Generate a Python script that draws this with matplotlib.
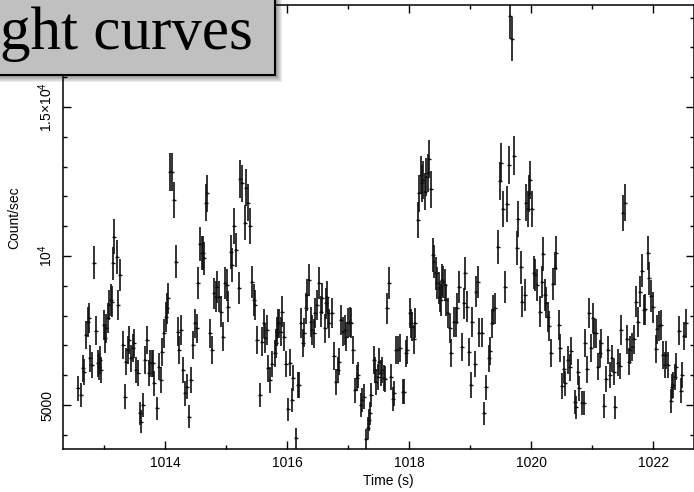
import numpy as np
import matplotlib
matplotlib.use("Agg")
import matplotlib.pyplot as plt
from matplotlib.patches import Rectangle
from matplotlib.ticker import MultipleLocator

plt.rcParams["font.family"] = ["Liberation Sans", "DejaVu Sans"]
plt.rcParams["mathtext.fontset"] = "custom"
plt.rcParams["mathtext.rm"] = "Liberation Sans"
plt.rcParams["mathtext.it"] = "Liberation Sans:italic"

# light curve, 1/32 s bins
BIN = 1.0 / 32.0

time_a = [
    1012.57, 1012.61, 1012.64, 1012.67, 1012.70, 1012.73, 1012.74, 1012.77, 1012.79, 1012.83,
    1012.86, 1012.89, 1012.91, 1012.93, 1012.95, 1012.99, 1013.01, 1013.03, 1013.05, 1013.08,
    1013.10, 1013.12, 1013.14, 1013.16, 1013.20, 1013.23, 1013.26, 1013.30, 1013.33, 1013.35,
    1013.38, 1013.40, 1013.44, 1013.46, 1013.48, 1013.51, 1013.55, 1013.58, 1013.60, 1013.63,
    1013.67, 1013.70, 1013.73, 1013.75, 1013.78, 1013.80, 1013.82, 1013.86, 1013.90, 1013.92,
    1013.95, 1013.97, 1014.01, 1014.03, 1014.05, 1014.08, 1014.11, 1014.14, 1014.17, 1014.20,
    1014.23, 1014.26, 1014.29, 1014.32, 1014.36, 1014.39, 1014.42, 1014.45, 1014.49, 1014.51,
    1014.54, 1014.57, 1014.60, 1014.62, 1014.64, 1014.67, 1014.69, 1014.73, 1014.76, 1014.79,
    1014.83, 1014.85, 1014.88, 1014.91, 1014.95, 1014.98, 1015.01, 1015.03, 1015.07, 1015.10,
    1015.13, 1015.16, 1015.20, 1015.23, 1015.26, 1015.30, 1015.32, 1015.35, 1015.38, 1015.42,
    1015.45, 1015.47, 1015.51, 1015.55, 1015.58, 1015.61, 1015.63, 1015.66, 1015.69, 1015.72,
    1015.75,
]
rate_a = [
    5559, 5335, 6230, 6118, 7349, 7796, 7908, 6566, 6342, 9776,
    7494, 6398, 6286, 6510, 6174, 7684, 7237, 7572, 7908, 8355,
    8523, 8467, 9754, 10649, 9978, 8355, 9362, 7013, 5279, 6454,
    6845, 7181, 6566, 6901, 7069, 6174, 6062, 4720, 4440, 4999,
    6510, 7181, 6062, 6398, 6398, 6398, 5726, 4887, 6286, 5838,
    6790, 7405, 7964, 8244, 8579, 12808, 12808, 11879, 9810, 7461,
    6845, 7517, 6174, 5391, 5615, 4608, 5838, 7013, 7740, 7572,
    9083, 10403, 10089, 10089, 9922, 11790, 12103, 7405, 6845, 8747,
    8635, 8971, 8635, 8132, 7293, 9083, 9027, 8300, 10145, 9698,
    11007, 10201, 8915, 12573, 12439, 11119, 12293, 11790, 11007, 9139,
    8523, 8355, 7181, 5335, 7125, 7740, 7237, 7517, 6230, 5838,
    6376,
]

time_b = [
    1015.79, 1015.81, 1015.83, 1015.85, 1015.87, 1015.90, 1015.92, 1015.95, 1015.98, 1016.01,
    1016.04, 1016.07, 1016.10, 1016.14, 1016.17, 1016.19, 1016.23, 1016.26, 1016.28, 1016.31,
    1016.33, 1016.35, 1016.39, 1016.41, 1016.43, 1016.46, 1016.49, 1016.52, 1016.55, 1016.57,
    1016.61, 1016.63, 1016.65, 1016.67, 1016.69, 1016.73, 1016.76, 1016.79, 1016.83, 1016.85,
    1016.88, 1016.91, 1016.95, 1016.97, 1017.00, 1017.02, 1017.04, 1017.08, 1017.11, 1017.14,
    1017.16, 1017.20, 1017.23, 1017.25, 1017.29, 1017.32, 1017.34, 1017.36, 1017.38, 1017.42,
    1017.44, 1017.46, 1017.49, 1017.51, 1017.54, 1017.56, 1017.58, 1017.60, 1017.63, 1017.67,
    1017.70, 1017.73, 1017.75, 1017.79, 1017.82, 1017.84, 1017.89, 1017.91, 1017.94, 1017.97,
    1018.01, 1018.03, 1018.05, 1018.07, 1018.10, 1018.14, 1018.16, 1018.19, 1018.21, 1018.23,
    1018.26, 1018.28, 1018.30, 1018.32, 1018.35, 1018.39, 1018.41, 1018.43, 1018.45, 1018.48,
    1018.50, 1018.52, 1018.54, 1018.56, 1018.58, 1018.61, 1018.64, 1018.66, 1018.69, 1018.73,
    1018.76, 1018.79, 1018.82, 1018.86, 1018.89, 1018.91, 1018.95, 1018.98, 1019.01, 1019.03,
    1019.07, 1019.10, 1019.12, 1019.15, 1019.19, 1019.22,
]
rate_b = [
    6733, 7069, 7461, 7740, 7740, 7461, 8132, 7293, 6376, 4854,
    6420, 5167, 5894, 3881, 5671, 5671, 7763, 7091, 7427, 8244,
    8691, 9194, 7796, 7517, 7405, 8076, 8355, 9083, 8132, 8579,
    7572, 8411, 8635, 8076, 7740, 8098, 6644, 5782, 6174, 6454,
    7852, 7461, 7517, 7293, 7763, 7796, 7763, 6845, 5503, 5894,
    6006, 4999, 5167, 5279, 3858, 4216, 4496, 4720, 5335, 6510,
    6174, 5782, 5950, 6454, 6062, 6174, 5894, 5861, 8244, 9083,
    5950, 5190, 5391, 6845, 6845, 6901, 5447, 5447, 6733, 6845,
    8076, 7740, 7628, 7203, 7763, 11208, 12103, 12718, 12439, 12551,
    12159, 12662, 12774, 13255, 12237, 10034, 9810, 9418, 9083, 8915,
    8635, 8523, 9194, 9139, 9027, 8523, 8076, 7572, 6756, 7796,
    7796, 8244, 8971, 6957, 8411, 9418, 8300, 6790, 5671, 7796,
    6376, 8803, 9139, 7427, 7427, 4720,
]

time_c = [
    1019.26, 1019.30, 1019.32, 1019.35, 1019.37, 1019.40, 1019.45, 1019.48, 1019.50, 1019.54,
    1019.57, 1019.60, 1019.63, 1019.66, 1019.69, 1019.72, 1019.77, 1019.79, 1019.83, 1019.85,
    1019.89, 1019.92, 1019.94, 1019.96, 1019.98, 1020.02, 1020.05, 1020.07, 1020.09, 1020.14,
    1020.17, 1020.19, 1020.22, 1020.25, 1020.27, 1020.29, 1020.32, 1020.36, 1020.39, 1020.41,
    1020.45, 1020.48, 1020.51, 1020.54, 1020.56, 1020.60, 1020.63, 1020.66, 1020.71, 1020.73,
    1020.76, 1020.79, 1020.83, 1020.86, 1020.89, 1020.92, 1020.95, 1020.98, 1021.01, 1021.03,
    1021.07, 1021.10, 1021.12, 1021.15, 1021.20, 1021.23, 1021.26, 1021.30, 1021.33, 1021.35,
    1021.38, 1021.42, 1021.45, 1021.48, 1021.51, 1021.54, 1021.57, 1021.60, 1021.62, 1021.66,
    1021.69, 1021.72, 1021.75, 1021.79, 1021.82, 1021.85, 1021.87, 1021.92, 1021.94, 1021.97,
    1022.00, 1022.04, 1022.07, 1022.09, 1022.13, 1022.16, 1022.19, 1022.21, 1022.25, 1022.29,
    1022.31, 1022.33, 1022.36, 1022.38, 1022.42, 1022.45, 1022.48, 1022.51, 1022.54,
]
rate_c = [
    5592, 6566, 6823, 7740, 8188, 8244, 10313, 12528, 13132, 11566,
    8971, 11745, 13054, 18050, 17280, 13367, 10257, 11231, 9620, 8467,
    8691, 11790, 11566, 12103, 12551, 11566, 9441, 9362, 9027, 8132,
    9139, 10056, 8691, 8434, 7964, 7651, 6756, 9060, 9586, 10112,
    7684, 6901, 5637, 6196, 5726, 6510, 6264, 6823, 5111, 4921,
    6118, 5559, 5055, 5055, 7091, 6196, 8076, 6901, 7908, 7405,
    7405, 6286, 6733, 7069, 4977, 5861, 6845, 6006, 6566, 6118,
    4921, 6420, 6308, 7517, 11432, 11790, 7203, 6454, 6845, 6957,
    7203, 8467, 7796, 8803, 9508, 8188, 8210, 10089, 9250, 8658,
    8277, 6868, 7539, 7651, 7684, 6677, 6342, 6677, 6342, 5145,
    5615, 5671, 5950, 6286, 7494, 5480, 6006, 7315, 7740,
]

y_ticks = [5000, 10000, 15000]
y_tick_labels = ["5000", r"$\mathregular{10^4}$", r"$\mathregular{1.5{\times}10^4}$"]
x_ticks = [1014, 1016, 1018, 1020, 1022]

time = np.array(time_a + time_b + time_c)
rate = np.array(rate_a + rate_b + rate_c, dtype=float)
# poisson error on the rate
rate_err = np.sqrt(rate / BIN)

fig = plt.figure(figsize=(6.94, 4.92), dpi=100)
ax = fig.add_axes([63 / 694, 43 / 492, 631 / 694, 444 / 492])

ax.errorbar(time, rate, yerr=rate_err, xerr=BIN / 2, fmt="_", color="#111111",
            markersize=3.5, markeredgewidth=1.0,
            ecolor="#111111", elinewidth=1.2, capsize=0)

ax.set_xlim(1012.32, 1022.67)
ax.set_ylim(3524, 18423)

ax.set_xticks(x_ticks)
ax.xaxis.set_minor_locator(MultipleLocator(1))
ax.set_yticks(y_ticks)
ax.set_yticklabels(y_tick_labels)
ax.yaxis.set_minor_locator(MultipleLocator(1000))

ax.tick_params(which="both", direction="in", top=True, right=True, width=1.0,
               labelsize=10)
ax.tick_params(which="major", length=5.5)
ax.tick_params(which="minor", length=2.8)
ax.tick_params(axis="x", pad=5)
ax.tick_params(axis="y", pad=6, labelrotation=90)
for lbl in ax.get_yticklabels():
    lbl.set_va("center")

for sp in ax.spines.values():
    sp.set_linewidth(1.1)

ax.set_xlabel("Time (s)", fontsize=10)
ax.xaxis.set_label_coords(0.515, -0.056)
ax.set_ylabel("Count/sec", fontsize=10)
ax.yaxis.set_label_coords(-0.066, 0.52)

# title box with drop shadow, clipped at the top left
box_x1 = 275 / 694
box_y0 = 1 - 75 / 492
for k in range(1, 8):
    dx = k / 694
    dy = k / 492
    fig.patches.append(Rectangle((-0.02 + dx, box_y0 - dy), box_x1 + 0.02, 0.2,
                                 transform=fig.transFigure, facecolor="black",
                                 edgecolor="none", alpha=0.07, zorder=5))
fig.patches.append(Rectangle((-0.02, box_y0), box_x1 + 0.02, 0.2,
                             transform=fig.transFigure, facecolor="#c0c0c0",
                             edgecolor="black", linewidth=1.5, zorder=6))
fig.text(0.0, 1 - 49 / 492, "ght curves", fontsize=44,
         family=["Liberation Serif", "DejaVu Serif"], ha="left", va="baseline",
         zorder=7)

fig.savefig("out.png", dpi=100)
